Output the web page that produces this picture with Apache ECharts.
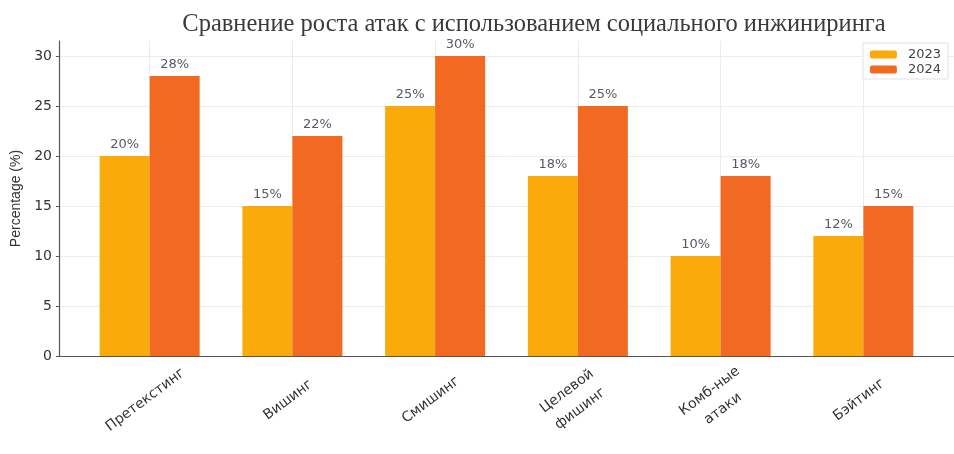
<!DOCTYPE html>
<html>
<head>
<meta charset="utf-8">
<script src="https://cdn.jsdelivr.net/npm/echarts@6/dist/echarts.min.js"></script>
<style>
  html, body { margin: 0; padding: 0; background: #fff; }
  #chart { width: 954px; height: 454px; }
</style>
</head>
<body>
<div id="chart"></div>
<script>
// Attack types (category axis) and growth percentages per year
const categories = ['Претекстинг', 'Вишинг', 'Смишинг', 'Целевой\nфишинг', 'Комб-ные\nатаки', 'Бэйтинг'];
const values2023 = [20, 15, 25, 18, 10, 12];
const values2024 = [28, 22, 30, 25, 18, 15];
const yTicks = [0, 5, 10, 15, 20, 25, 30];
const seriesNames = ['2023', '2024'];

// Category positions on a numeric x scale so bars sit side by side around each index
const positions = categories.map((_, i) => i);
// Rotated labels are centred just below each group
const labelShift = -0.03;
const labelPositions = positions.map(p => p + labelShift);

const chart = echarts.init(document.getElementById('chart'), null, { renderer: 'canvas' });

const barLabel = {
  show: true,
  position: 'top',
  distance: 5,
  formatter: p => p.value[1] + '%',
  color: '#555a66',
  fontFamily: 'DejaVu Sans',
  fontSize: 13
};

chart.setOption({
  animation: false,
  backgroundColor: '#ffffff',
  title: {
    text: 'Сравнение роста атак с использованием социального инжиниринга',
    left: 529,
    textAlign: 'center',
    top: 7,
    textStyle: {
      fontFamily: 'Liberation Serif',
      fontWeight: 'normal',
      fontSize: 24.5,
      color: '#3a3a3a'
    }
  },
  legend: {
    data: seriesNames,
    orient: 'vertical',
    right: 6,
    top: 43,
    itemWidth: 27,
    itemHeight: 8,
    itemGap: 2,
    padding: [5, 7, 3, 7],
    borderColor: '#e2e2e2',
    borderWidth: 1,
    backgroundColor: '#ffffff',
    textStyle: { fontFamily: 'DejaVu Sans', fontSize: 13, color: '#444', padding: [0, 0, 0, 6] }
  },
  grid: { left: 59, right: 0, top: 41, bottom: 98, containLabel: false },
  xAxis: {
    type: 'value',
    min: -0.635,
    max: 5.635,
    axisLine: { show: true, onZero: false, lineStyle: { color: '#555', width: 1.2 } },
    axisTick: { show: false, customValues: positions },
    splitLine: { show: true, lineStyle: { color: '#ececec', width: 1 } },
    axisLabel: {
      customValues: labelPositions,
      formatter: v => categories[Math.round(v - labelShift)]
        .split('\n').map(line => '{c|' + line + '}').join('\n'),
      rotate: 37,
      align: 'center',
      verticalAlign: 'middle',
      margin: 44,
      rich: {
        c: {
          align: 'center',
          fontFamily: 'DejaVu Sans',
          fontSize: 14,
          color: '#333',
          lineHeight: 22
        }
      }
    }
  },
  yAxis: {
    type: 'value',
    min: 0,
    max: 31.5,
    name: 'Percentage (%)',
    nameLocation: 'middle',
    nameRotate: 90,
    nameGap: 35,
    nameTextStyle: { fontFamily: 'Liberation Sans Narrow, Liberation Sans', fontSize: 14, color: '#333' },
    axisLine: { show: true, onZero: false, lineStyle: { color: '#555', width: 1.2 } },
    axisTick: { show: true, length: 3, customValues: yTicks, lineStyle: { color: '#555' } },
    splitLine: { show: true, lineStyle: { color: '#ececec', width: 1 } },
    axisLabel: {
      customValues: yTicks,
      margin: 7,
      fontFamily: 'DejaVu Sans',
      fontSize: 14,
      color: '#333'
    }
  },
  series: [
    {
      name: seriesNames[0],
      type: 'bar',
      barWidth: 50,
      barGap: '0%',
      itemStyle: { color: '#fbaa0c' },
      label: barLabel,
      data: positions.map((p, i) => [p, values2023[i]])
    },
    {
      name: seriesNames[1],
      type: 'bar',
      barWidth: 50,
      barGap: '0%',
      itemStyle: { color: '#f26a22' },
      label: barLabel,
      data: positions.map((p, i) => [p, values2024[i]])
    }
  ]
});
</script>
</body>
</html>
